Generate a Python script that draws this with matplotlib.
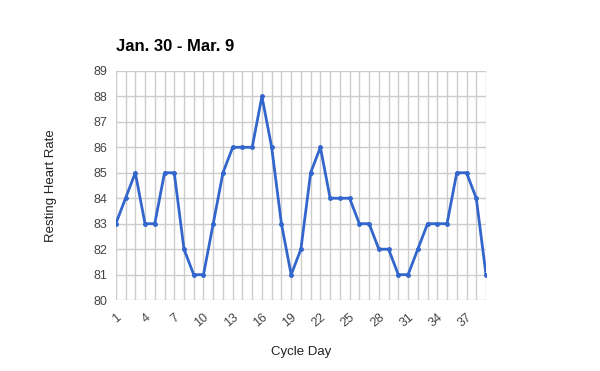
import matplotlib
matplotlib.use('Agg')
import matplotlib.pyplot as plt

plt.rcParams['font.family'] = ['Liberation Sans', 'DejaVu Sans']

days = list(range(1, 40))
heart_rate = [83, 84, 85, 83, 83, 85, 85, 82, 81, 81,
              83, 85, 86, 86, 86, 88, 86, 83, 81, 82,
              85, 86, 84, 84, 84, 83, 83, 82, 82, 81,
              81, 82, 83, 83, 83, 85, 85, 84, 81]
y_ticks = list(range(80, 90))
x_labels = [str(d) if (d - 1) % 3 == 0 else '' for d in days]

fig = plt.figure(figsize=(6, 3.71), dpi=100)
ax = fig.add_axes([0.193, 0.191, 0.617, 0.618])

ax.plot(days, heart_rate, color='#3366cc', lw=2, marker='o', ms=2.5, zorder=3)

ax.set_xlim(days[0], days[-1])
ax.set_ylim(80, 89)
ax.set_yticks(y_ticks)
ax.set_xticks(days)
ax.set_xticklabels(x_labels, rotation=40, ha='right', rotation_mode='anchor')
ax.grid(True, color='#cccccc', lw=1)
ax.set_axisbelow(True)
for s in ax.spines.values():
    s.set_visible(False)
ax.tick_params(length=0, labelsize=9, colors='#444444', pad=6)
ax.tick_params(axis='x', pad=8)

ax.set_xlabel('Cycle Day', fontsize=9.5, labelpad=12, color='#222222')
ax.set_ylabel('Resting Heart Rate', fontsize=9.5, labelpad=26, color='#222222')
ax.set_title('Jan. 30 - Mar. 9', loc='left', fontsize=12, fontweight='bold', pad=14)

fig.savefig('out.png', dpi=100)
